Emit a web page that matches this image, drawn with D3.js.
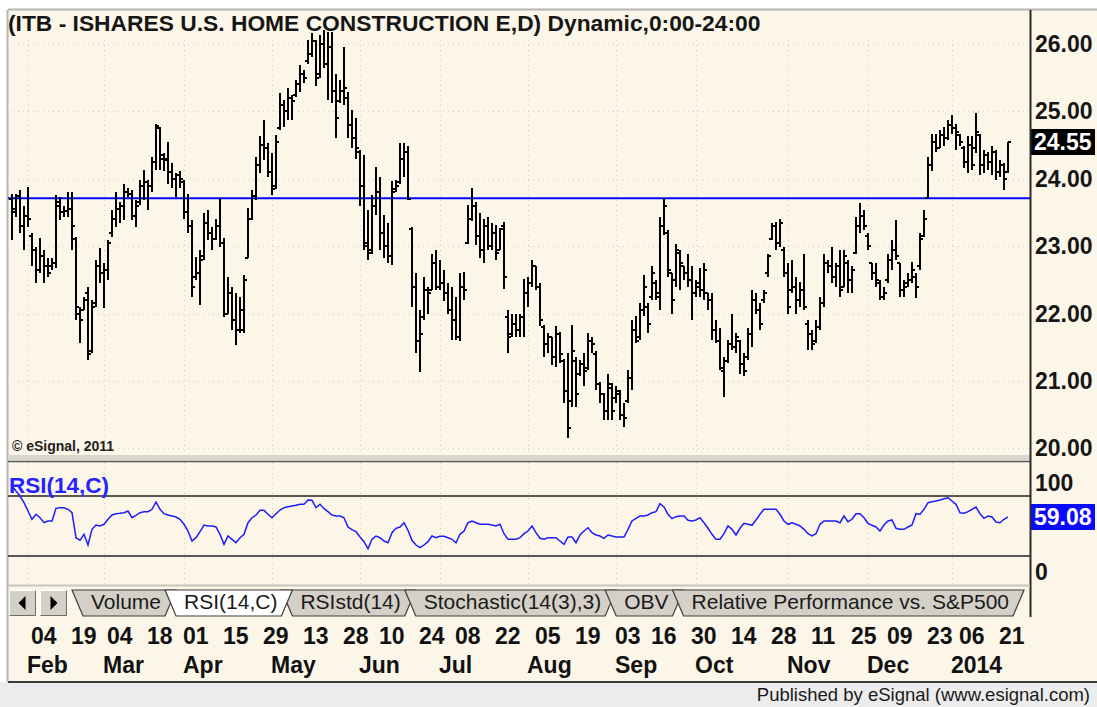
<!DOCTYPE html>
<html>
<head>
<meta charset="utf-8">
<title>ITB daily bars</title>
<script src="https://cdn.jsdelivr.net/npm/d3@7/dist/d3.min.js"></script>
<style>
body { margin: 0; background: #fff; }
svg { display: block; }
text { font-family: "Liberation Sans", Arial, sans-serif; }
</style>
</head>
<body>
<div id="chart"></div>
<script>
var WIDTH = 1097
var HEIGHT = 707

// trading calendar
var firstDay = "2013-01-28"
var lastDay = "2014-01-23"
var holidays = ["2013-02-18","2013-03-29","2013-05-27","2013-07-04","2013-09-02",
    "2013-11-28","2013-12-25","2014-01-01","2014-01-20"]

// daily OHLC
var opens = [
    23.70,23.50,23.74,23.30,23.45,23.15,22.95,22.65,22.85,22.70,
    22.70,22.75,23.60,23.50,23.52,23.55,23.10,22.00,22.05,22.30,
    21.45,22.15,22.70,22.60,22.65,23.20,23.40,23.55,23.60,23.80,
    23.78,23.45,23.65,23.90,23.95,23.90,24.25,24.75,24.30,24.30,
    24.10,24.00,24.05,23.95,23.50,23.30,22.55,22.60,22.85,23.35,
    23.20,23.10,23.30,23.05,22.00,22.30,21.90,21.75,21.75,22.82,
    23.40,23.75,24.20,24.50,24.45,24.10,23.90,24.75,25.10,25.00,
    25.20,25.25,25.40,25.55,25.75,25.85,26.05,25.55,26.00,25.70,
    25.95,25.30,25.15,25.30,25.20,24.80,24.60,24.40,23.90,23.05,
    22.95,23.60,23.80,23.20,23.00,22.85,23.85,23.95,24.30,24.40,
    23.25,22.40,21.60,21.95,22.35,22.35,22.75,22.40,22.45,22.30,
    22.05,21.90,21.65,22.40,23.05,23.40,23.60,23.15,22.95,23.30,
    23.00,23.20,22.95,23.30,21.95,21.70,21.85,21.75,21.95,22.30,
    22.45,22.70,22.40,21.80,21.55,21.65,21.35,21.70,21.30,20.85,
    20.70,21.30,21.10,21.25,21.20,21.60,21.40,20.95,20.80,20.55,
    20.90,20.75,20.80,20.50,20.70,21.05,21.75,21.65,22.05,22.10,
    22.25,22.45,22.30,23.30,23.20,22.60,22.50,22.90,22.70,22.60,
    22.50,22.30,22.40,22.35,22.30,22.20,21.75,21.60,21.15,21.30,
    21.55,21.50,21.60,21.25,21.35,21.70,22.20,22.05,22.20,22.60,
    23.10,23.30,23.05,22.95,22.60,22.35,22.40,22.20,22.35,21.85,
    21.70,21.60,21.80,22.15,22.75,22.70,22.55,22.70,22.40,22.75,
    22.50,22.90,23.30,23.45,23.15,22.75,22.60,22.45,22.25,22.50,
    22.80,22.95,22.75,22.35,22.45,22.50,22.55,22.70,23.15,23.71,
    24.20,24.55,24.45,24.65,24.60,24.80,24.75,24.65,24.45,24.25,
    24.50,24.45,24.65,24.20,24.35,24.25,24.40,24.10,24.20,24.10
]
var highs = [
    23.78,23.78,23.83,23.59,23.88,23.19,22.99,23.12,22.94,22.82,
    22.82,23.76,23.73,23.59,23.81,23.81,23.14,22.10,22.25,22.40,
    22.20,22.80,22.97,22.75,23.09,23.54,23.81,23.66,23.93,23.86,
    23.83,23.69,23.98,24.13,23.98,24.33,24.82,24.77,24.38,24.55,
    24.23,24.08,24.11,23.98,23.78,23.39,22.84,22.94,23.49,23.54,
    23.29,23.41,23.71,23.12,22.55,22.40,22.30,22.25,22.57,23.56,
    23.83,24.33,24.63,24.87,24.53,24.38,24.65,25.27,25.17,25.34,
    25.24,25.47,25.69,25.61,26.06,26.16,26.06,26.13,26.21,26.18,
    26.18,25.56,25.47,25.96,25.29,25.02,24.90,24.43,24.35,23.54,
    23.76,24.18,24.03,23.46,23.34,23.96,23.98,24.53,24.53,24.48,
    23.29,22.60,22.05,22.55,22.40,22.89,22.94,22.80,22.65,22.45,
    22.40,22.25,22.60,22.62,23.61,23.86,23.66,23.49,23.41,23.44,
    23.34,23.31,23.27,23.36,22.05,22.00,22.00,22.00,22.52,22.55,
    22.80,22.70,22.45,21.83,21.71,21.66,21.81,21.72,21.32,21.41,
    21.83,21.36,21.31,21.41,21.71,21.66,21.44,20.99,20.82,21.11,
    20.97,20.92,20.87,20.67,21.16,21.91,21.96,22.15,22.57,22.15,
    22.70,22.50,23.44,23.71,23.24,22.60,23.04,22.94,22.70,22.89,
    22.70,22.50,22.67,22.75,22.30,22.30,21.91,21.78,21.36,21.61,
    22.00,21.71,21.61,21.41,21.78,22.35,22.30,22.15,22.35,22.89,
    23.34,23.36,23.41,22.99,22.75,22.80,22.55,22.47,22.89,21.91,
    21.76,21.91,22.25,22.89,22.80,22.99,22.75,22.94,22.94,22.80,
    22.70,23.44,23.64,23.54,23.19,22.75,22.75,22.50,22.40,22.89,
    23.09,23.39,22.75,22.50,22.60,22.77,22.60,23.19,23.54,24.33,
    24.67,24.67,24.72,24.77,24.87,24.95,24.82,24.67,24.48,24.63,
    24.63,24.97,24.67,24.43,24.40,24.48,24.43,24.28,24.23,24.55
]
var lows = [
    23.09,23.44,23.19,22.94,23.29,22.70,22.45,22.60,22.45,22.55,
    22.65,22.67,23.39,23.44,23.44,22.94,21.90,21.56,22.05,21.31,
    21.41,22.10,22.45,22.08,22.50,23.14,23.29,23.34,23.39,23.73,
    23.39,23.29,23.61,23.69,23.54,23.81,24.13,24.13,24.11,23.93,
    23.86,23.73,23.86,23.41,23.19,22.25,22.50,22.13,22.80,23.09,
    22.94,23.09,22.99,21.95,22.00,21.76,21.53,21.71,21.71,22.82,
    23.39,23.69,24.08,24.28,24.03,23.76,23.85,24.72,24.77,24.87,
    24.87,25.22,25.29,25.42,25.71,25.81,25.37,25.50,25.64,25.17,
    25.12,24.60,25.12,25.10,24.60,24.45,24.30,23.59,22.95,22.80,
    22.89,23.46,22.94,22.82,22.75,22.72,23.81,23.93,24.03,23.69,
    22.10,21.41,21.14,21.90,22.00,22.35,22.35,22.35,22.18,22.00,
    21.61,21.61,21.60,22.20,23.04,23.38,23.02,22.82,22.75,22.94,
    22.94,22.80,22.94,22.37,21.41,21.66,21.66,21.66,21.66,22.10,
    22.40,22.35,21.81,21.36,21.41,21.24,21.21,21.26,20.67,20.15,
    20.62,20.62,21.07,20.92,21.16,21.41,20.87,20.67,20.42,20.42,
    20.42,20.67,20.42,20.32,20.67,20.87,21.56,21.61,21.96,21.71,
    22.20,22.20,22.05,23.17,22.55,22.00,22.40,22.35,22.50,22.40,
    21.91,22.25,22.25,22.20,22.05,21.61,21.56,21.16,20.77,21.26,
    21.46,21.41,21.11,21.07,21.31,21.51,22.00,21.76,22.15,22.55,
    23.09,22.94,22.99,22.55,22.00,22.30,22.00,22.10,22.05,21.46,
    21.46,21.56,21.76,22.10,22.60,22.45,22.40,22.25,22.40,22.30,
    22.30,22.89,23.19,23.24,22.94,22.50,22.40,22.20,22.20,22.45,
    22.65,22.80,22.25,22.25,22.40,22.45,22.23,22.65,23.14,23.71,
    24.11,24.40,24.45,24.48,24.58,24.67,24.43,24.48,24.16,24.08,
    24.13,24.38,24.06,24.08,24.13,24.06,23.98,24.03,23.83,24.08
]
var closes = [
    23.55,23.74,23.30,23.45,23.40,22.95,22.65,22.85,22.70,22.60,
    22.75,23.65,23.50,23.52,23.55,23.30,22.10,21.90,22.20,21.40,
    22.10,22.70,22.60,22.65,23.05,23.40,23.55,23.60,23.80,23.78,
    23.45,23.60,23.90,23.95,23.90,24.25,24.78,24.35,24.28,24.10,
    24.00,24.05,24.00,23.50,23.30,22.40,22.60,22.80,23.35,23.20,
    23.10,23.30,23.05,22.00,22.30,21.90,21.75,22.05,22.50,23.40,
    23.75,24.20,24.50,24.45,24.10,23.85,24.55,25.10,25.00,25.20,
    25.15,25.40,25.55,25.50,25.85,26.05,25.50,26.00,25.70,25.95,
    25.30,24.90,25.30,25.35,24.80,24.60,24.45,23.90,23.00,22.90,
    23.60,23.80,23.20,23.00,22.85,23.80,23.90,24.30,24.40,23.70,
    22.40,21.60,21.70,22.35,22.30,22.75,22.40,22.45,22.30,22.05,
    21.90,21.65,22.40,22.35,23.40,23.60,23.15,22.95,23.30,23.00,
    23.20,22.90,23.25,22.55,21.65,21.85,21.75,21.95,22.30,22.45,
    22.70,22.40,21.90,21.55,21.65,21.35,21.70,21.40,20.85,20.30,
    21.45,20.80,21.25,21.15,21.60,21.55,20.95,20.80,20.55,20.95,
    20.55,20.85,20.50,20.45,21.05,21.75,21.60,22.05,22.40,21.85,
    22.60,22.25,23.30,23.60,22.65,22.20,22.95,22.75,22.60,22.50,
    22.30,22.45,22.35,22.65,22.20,21.75,21.60,21.20,21.30,21.55,
    21.50,21.65,21.25,21.15,21.70,22.20,22.05,21.85,22.30,22.85,
    23.30,23.05,23.35,22.60,22.10,22.40,22.20,22.35,22.10,21.70,
    21.55,21.80,22.15,22.75,22.70,22.55,22.70,22.35,22.85,22.50,
    22.65,23.30,23.45,23.30,23.00,22.60,22.50,22.25,22.30,22.80,
    22.95,22.85,22.35,22.40,22.50,22.65,22.40,23.10,23.40,24.20,
    24.55,24.45,24.65,24.60,24.80,24.75,24.70,24.55,24.25,24.50,
    24.20,24.70,24.20,24.35,24.25,24.40,24.10,24.20,24.00,24.55
]
// RSI(14,C)
var rsi = [
    90,85,80,73.3,65,56.7,61.7,58.3,53.3,55,
    55,67.7,68.3,68.3,66.7,63.3,38.3,35.7,41.7,31,
    46.7,51,50,51.7,56.7,61,62.3,62.7,63.3,65,
    58.3,60.7,63.3,64.3,64.3,66.7,74,66.7,62.3,61,
    60,59,56.7,51.7,45,35,38.3,44.3,51,50,
    50,49,41.7,31.7,40,36.7,33.3,38.3,41.7,53.3,
    58.3,61,65.7,65.7,61.7,58.3,62.3,66,68.3,69.3,
    70,70.7,71.7,71.7,76,75.7,68.3,71.7,67.3,64.3,
    61,60,60,58.3,49,46.3,44.3,39,34.3,27.3,
    36.7,40,38.3,35,33.3,43.3,47.7,49,53.3,45.7,
    35.7,31,28.3,31,34.3,40,38.3,39.7,39.7,38.3,
    36.7,33.3,41.7,45,53.3,55,53.3,51.7,51.7,51.7,
    51,50,51.7,42.3,36.7,36.7,36.7,38.3,42.3,45,
    50,43.3,37.7,36.7,38.3,38.3,38.3,35,31.7,39,
    39,33.3,41,45,48.3,43.3,41,40,37.7,41,
    40,39,39,39,46.7,55,57.7,60,60,61,
    63.3,64.3,72.3,69,61.7,57.3,59.3,60,60,55.7,
    55,56,58.3,53.3,47.7,41.7,36.7,36.7,42.3,50,
    46.7,41,47.7,52.7,51.7,50.7,56,61.7,66.7,66.7,
    66.7,66.7,61.7,55,51.7,53.3,51.7,50,46.7,42.3,
    40,42.3,51.7,55,55,55,55,53.3,60,54.3,
    56.7,62.3,62.3,58.3,52.7,50.7,49,45,51,55,
    56,47.7,46.7,46.7,49,51,62.3,61.7,66.7,73.3,
    74.3,75,76,77.3,78.3,75,71.7,63.3,62.7,64.3,
    66.7,69,62.3,57.7,60,59,54,53.3,56.7,59.08
]

var priceTicks = [20, 21, 22, 23, 24, 25, 26]
var rsiBands = [80, 20]
var rsiTicks = [100, 0]
var trendLevel = 23.71
var dayTicks = ["2013-02-04","2013-02-19","2013-03-04","2013-03-18","2013-04-01","2013-04-15",
    "2013-04-29","2013-05-13","2013-05-28","2013-06-10","2013-06-24","2013-07-08","2013-07-22",
    "2013-08-05","2013-08-19","2013-09-03","2013-09-16","2013-09-30","2013-10-14","2013-10-28",
    "2013-11-11","2013-11-25","2013-12-09","2013-12-23","2014-01-06","2014-01-21"]
var monthNames = ["Feb","Mar","Apr","May","Jun","Jul","Aug","Sep","Oct","Nov","Dec","2014"]
var tabNames = ["Volume","RSI(14,C)","RSIstd(14)","Stochastic(14(3),3)","OBV","Relative Performance vs. S&P500"]
var activeTab = 1

var title = "(ITB - ISHARES U.S. HOME CONSTRUCTION E,D) Dynamic,0:00-24:00"

var parseDay = d3.timeParse("%Y-%m-%d")
var fmtDay = d3.timeFormat("%Y-%m-%d")
var days = d3.timeDay.range(parseDay(firstDay), d3.timeDay.offset(parseDay(lastDay), 1))
    .filter(function(d){ return d.getDay() != 0 && d.getDay() != 6 && holidays.indexOf(fmtDay(d)) < 0 })
    .map(fmtDay)

var bars = days.map(function(d, i){
    return {day: d, o: opens[i], h: highs[i], l: lows[i], c: closes[i]}
})
var monthStarts = days.filter(function(d, i){ return i > 0 && d.slice(5, 7) != days[i - 1].slice(5, 7) })

// layout
var left = 8, right = 1030
var priceTop = 10, priceBottom = 455
var rsiTop = 463, rsiBottom = 585
var tabTop = 590, tabBottom = 616
var axisBottom = 682
var bg = "#fcf6e9"
var boldSize = 23

var x = d3.scalePoint().domain(days).range([12, 1008])
var y = d3.scaleLinear().domain([20, 26]).range([448.4, 44])
var yR = d3.scaleLinear().domain([20, 80]).range([556, 496])

var svg = d3.select("#chart").append("svg")
    .attr("width", WIDTH)
    .attr("height", HEIGHT)

svg.append("rect").attr("width", WIDTH).attr("height", HEIGHT).attr("fill", "#fff")
svg.append("rect")
    .attr("x", left).attr("y", priceTop)
    .attr("width", WIDTH - left).attr("height", axisBottom - priceTop)
    .attr("fill", bg)

// outer border
svg.append("line").attr("x1", left).attr("x2", WIDTH).attr("y1", priceTop - 0.5).attr("y2", priceTop - 0.5)
    .attr("stroke", "#b4b4b4").attr("stroke-width", 2)
svg.append("line").attr("x1", left - 0.5).attr("x2", left - 0.5).attr("y1", priceTop).attr("y2", axisBottom)
    .attr("stroke", "#b4b4b4").attr("stroke-width", 2)

svg.append("clipPath").attr("id", "clipPrice").append("rect")
    .attr("x", left).attr("y", priceTop).attr("width", right - left).attr("height", priceBottom - priceTop)

// dotted grid
var grid = svg.append("g")
    .attr("stroke", "#d6cfc0")
    .attr("stroke-dasharray", "1,4")
grid.selectAll(".hgrid")
    .data(priceTicks)
    .enter()
    .append("line")
    .attr("class", "hgrid")
    .attr("x1", left).attr("x2", right)
    .attr("y1", function(d){ return Math.round(y(d)) + 0.5 })
    .attr("y2", function(d){ return Math.round(y(d)) + 0.5 })
grid.selectAll(".vgrid")
    .data(monthStarts)
    .enter()
    .append("line")
    .attr("class", "vgrid")
    .attr("x1", function(d){ return Math.round(x(d)) + 0.5 })
    .attr("x2", function(d){ return Math.round(x(d)) + 0.5 })
    .attr("y1", priceTop + 30).attr("y2", priceBottom)
grid.selectAll(".vgridR")
    .data(monthStarts)
    .enter()
    .append("line")
    .attr("class", "vgridR")
    .attr("x1", function(d){ return Math.round(x(d)) + 0.5 })
    .attr("x2", function(d){ return Math.round(x(d)) + 0.5 })
    .attr("y1", rsiTop).attr("y2", rsiBottom)

// title and watermark
svg.append("text")
    .attr("x", left).attr("y", 31)
    .attr("font-size", 22.8).attr("font-weight", "bold").attr("fill", "#161616")
    .text(title)
svg.append("text")
    .attr("x", 12).attr("y", 451)
    .attr("font-size", 14).attr("font-weight", "bold").attr("fill", "#222")
    .text("\u00a9 eSignal, 2011")

// horizontal level line
svg.append("line")
    .attr("x1", left).attr("x2", right)
    .attr("y1", y(trendLevel)).attr("y2", y(trendLevel))
    .attr("stroke", "#0000ff").attr("stroke-width", 2)

// OHLC bars
svg.append("g")
    .attr("clip-path", "url(#clipPrice)")
    .selectAll(".bar")
    .data(bars)
    .enter()
    .append("path")
    .attr("class", "bar")
    .attr("d", function(d){
        var cx = Math.round(x(d.day))
        var yo = Math.round(y(d.o)), yc = Math.round(y(d.c))
        return "M" + cx + "," + Math.round(y(d.h)) + "V" + Math.round(y(d.l)) +
            "M" + (cx - 3) + "," + yo + "H" + cx +
            "M" + cx + "," + yc + "H" + (cx + 3)
    })
    .attr("fill", "none")
    .attr("stroke", "#000")
    .attr("stroke-width", 2)

// price axis
svg.selectAll(".plabel")
    .data(priceTicks)
    .enter()
    .append("text")
    .attr("class", "plabel")
    .attr("x", 1035)
    .attr("y", function(d){ return y(d) + 8 })
    .attr("font-size", boldSize).attr("font-weight", "bold").attr("fill", "#161616")
    .text(function(d){ return d.toFixed(2) })

function valueBox(yc, fill, label){
    svg.append("rect")
        .attr("x", 1031).attr("y", Math.round(yc) - 13)
        .attr("width", 64).attr("height", 26)
        .attr("fill", fill)
    svg.append("text")
        .attr("x", 1034).attr("y", yc + 8)
        .attr("font-size", boldSize).attr("font-weight", "bold").attr("fill", "#fff")
        .text(label)
}
var lastClose = closes[closes.length - 1]
valueBox(y(lastClose), "#000", lastClose.toFixed(2))

// pane separator
svg.append("rect").attr("x", left).attr("y", priceBottom).attr("width", right - left).attr("height", 5)
    .attr("fill", "#d9d6cf")
svg.append("line").attr("x1", left).attr("x2", right).attr("y1", rsiTop - 1.5).attr("y2", rsiTop - 1.5)
    .attr("stroke", "#555").attr("stroke-width", 1.5)

// RSI pane
svg.selectAll(".band")
    .data(rsiBands)
    .enter()
    .append("line")
    .attr("class", "band")
    .attr("x1", left).attr("x2", right)
    .attr("y1", function(d){ return yR(d) }).attr("y2", function(d){ return yR(d) })
    .attr("stroke", "#222").attr("stroke-width", 1.5)

var rsiLine = d3.line()
    .x(function(d, i){ return x(days[i]) })
    .y(function(d){ return yR(d) })
svg.append("path")
    .datum(rsi)
    .attr("d", rsiLine)
    .attr("fill", "none")
    .attr("stroke", "#1c1cff")
    .attr("stroke-width", 1.5)

svg.append("text")
    .attr("x", 9).attr("y", 493)
    .attr("font-size", 22.5).attr("font-weight", "bold").attr("fill", "#2424ff")
    .text("RSI(14,C)")

svg.selectAll(".rlabel")
    .data(rsiTicks)
    .enter()
    .append("text")
    .attr("class", "rlabel")
    .attr("x", 1035)
    .attr("y", function(d){ return Math.max(rsiTop + 20, Math.min(rsiBottom - 13, yR(d))) + 8 })
    .attr("font-size", boldSize).attr("font-weight", "bold").attr("fill", "#161616")
    .text(function(d){ return d })

var lastRsi = rsi[rsi.length - 1]
valueBox(yR(lastRsi), "#0a0aff", lastRsi.toFixed(2))

// right axis line
svg.append("line")
    .attr("x1", right + 0.5).attr("x2", right + 0.5)
    .attr("y1", priceTop).attr("y2", tabBottom + 1)
    .attr("stroke", "#2a2a2a").attr("stroke-width", 2)

// tab strip
svg.append("line").attr("x1", left).attr("x2", right).attr("y1", rsiBottom + 0.5).attr("y2", rsiBottom + 0.5)
    .attr("stroke", "#c8c4bc").attr("stroke-width", 2)

function button(x0, dir){
    var g = svg.append("g")
    g.append("rect").attr("x", x0).attr("y", tabTop).attr("width", 27).attr("height", tabBottom - tabTop)
        .attr("fill", "#d4d0c8")
    g.append("path").attr("d", "M" + (x0 + 0.5) + "," + (tabBottom - 0.5) + "V" + (tabTop + 0.5) + "H" + (x0 + 26.5))
        .attr("fill", "none").attr("stroke", "#fff")
    g.append("path").attr("d", "M" + (x0 + 0.5) + "," + (tabBottom - 0.5) + "H" + (x0 + 26.5) + "V" + (tabTop + 0.5))
        .attr("fill", "none").attr("stroke", "#6e6e6e")
    var cx = x0 + 13.5, cy = (tabTop + tabBottom) / 2
    g.append("path")
        .attr("d", dir < 0
            ? "M" + (cx - 4) + "," + cy + "L" + (cx + 3) + "," + (cy - 7) + "L" + (cx + 3) + "," + (cy + 7) + "Z"
            : "M" + (cx + 4) + "," + cy + "L" + (cx - 3) + "," + (cy - 7) + "L" + (cx - 3) + "," + (cy + 7) + "Z")
        .attr("fill", "#000")
}
button(9, -1)
button(40, 1)

var tabFont = 21
var measure = svg.append("text").attr("font-size", tabFont).attr("visibility", "hidden")
var tabs = []
var textX = 91
tabNames.forEach(function(name, i){
    measure.text(name)
    var w = measure.node().getComputedTextLength()
    tabs.push({name: name, i: i, tx: textX, left: textX - 19, right: textX + w + 15})
    textX = textX + w + 23
})
measure.remove()

var slant = 11
function drawTab(t){
    var g = svg.append("g")
    g.append("path")
        .attr("d", "M" + t.left + "," + tabTop + "H" + t.right +
            "L" + (t.right - slant) + "," + tabBottom + "H" + (t.left + slant) + "Z")
        .attr("fill", t.i == activeTab ? "#fff" : "#d4d0c8")
        .attr("stroke", "#3c3c3c").attr("stroke-width", 1.2)
    g.append("text")
        .attr("x", t.tx).attr("y", tabBottom - 7)
        .attr("font-size", tabFont).attr("fill", "#1a1a1a")
        .text(t.name)
}
tabs.forEach(function(t){ if (t.i != activeTab) drawTab(t) })
drawTab(tabs[activeTab])

// date axis
svg.selectAll(".day")
    .data(dayTicks)
    .enter()
    .append("text")
    .attr("class", "day")
    .attr("x", function(d){ return x(d) - 1 })
    .attr("y", 644)
    .attr("font-size", boldSize).attr("font-weight", "bold").attr("fill", "#111")
    .text(function(d){ return d.slice(8, 10) })
svg.selectAll(".month")
    .data(monthStarts)
    .enter()
    .append("text")
    .attr("class", "month")
    .attr("x", function(d){ return x(d) - 1 })
    .attr("y", 673)
    .attr("font-size", boldSize).attr("font-weight", "bold").attr("fill", "#111")
    .text(function(d, i){ return monthNames[i] })

// footer
svg.append("rect").attr("x", 0).attr("y", axisBottom).attr("width", WIDTH).attr("height", HEIGHT - axisBottom)
    .attr("fill", "#ececec")
svg.append("line").attr("x1", left).attr("x2", WIDTH).attr("y1", axisBottom).attr("y2", axisBottom)
    .attr("stroke", "#3a3a3a").attr("stroke-width", 2)
svg.append("text")
    .attr("x", 1090).attr("y", 701)
    .attr("text-anchor", "end")
    .attr("font-size", 18.5).attr("fill", "#1a1a1a")
    .text("Published by eSignal (www.esignal.com)")
</script>
</body>
</html>
